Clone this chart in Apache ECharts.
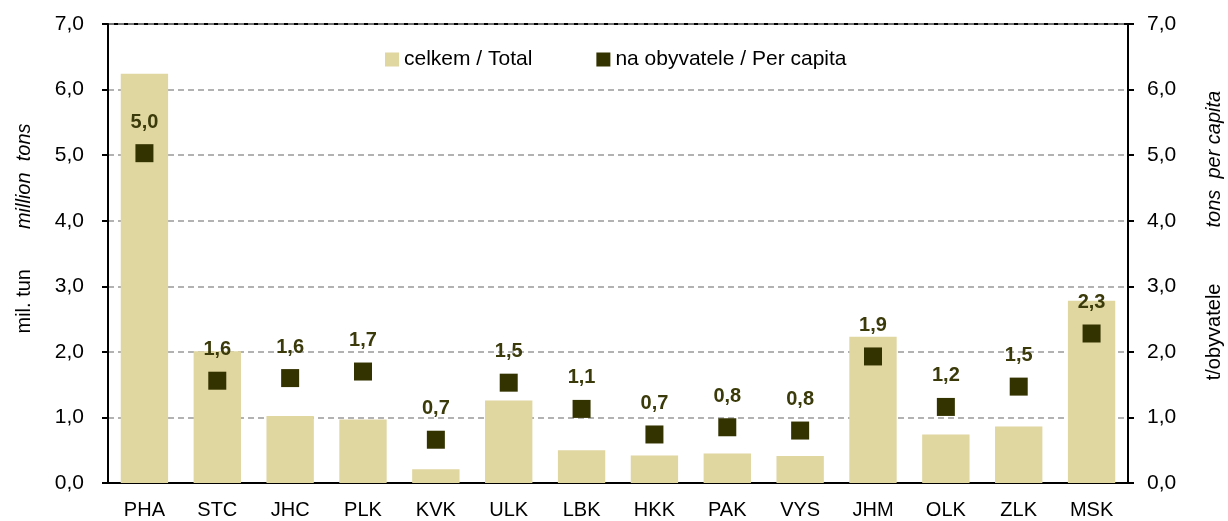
<!DOCTYPE html>
<html>
<head>
<meta charset="utf-8">
<script src="https://cdn.jsdelivr.net/npm/echarts@6/dist/echarts.min.js"></script>
<style>
  html, body { margin: 0; padding: 0; background: #fff; }
  #chart { width: 1228px; height: 521px; }
</style>
</head>
<body>
<div id="chart"></div>
<script>
const regions = ['PHA', 'STC', 'JHC', 'PLK', 'KVK', 'ULK', 'LBK', 'HKK', 'PAK', 'VYS', 'JHM', 'OLK', 'ZLK', 'MSK']
// celkem / Total (mil. tun)
const totals = [6.24, 2.01, 1.02, 0.97, 0.21, 1.26, 0.50, 0.42, 0.45, 0.41, 2.23, 0.74, 0.86, 2.78]
// na obyvatele / Per capita (t)
const perCapita = [5.03, 1.56, 1.60, 1.70, 0.66, 1.53, 1.13, 0.74, 0.85, 0.80, 1.93, 1.16, 1.47, 2.28]

const FONT = 'Liberation Sans, Arial, sans-serif'
const fmt = v => v.toFixed(1).replace('.', ',')

const chart = echarts.init(document.getElementById('chart'))

const axisCommon = {
  type: 'value',
  min: 0,
  max: 7,
  interval: 1,
  nameLocation: 'middle',
  nameRotate: 90,
  axisLine: { show: true, lineStyle: { color: '#000', width: 2 } },
  axisTick: { show: true, length: 6, lineStyle: { color: '#000', width: 2 } }
}

const tickLabel = { color: '#000', fontSize: 21, fontFamily: FONT, formatter: fmt }

const nameRich = {
  a: { fontSize: 20, color: '#000', fontFamily: FONT },
  b: { fontSize: 20, color: '#000', fontFamily: FONT, fontStyle: 'italic' },
  g: { width: 40 },
  g2: { width: 56 }
}

chart.setOption({
  animation: false,
  backgroundColor: '#fff',
  textStyle: { fontFamily: FONT },
  grid: {
    left: 108, right: 100, top: 24, bottom: 38,
    outerBoundsMode: 'none',
    show: true, borderColor: '#000', borderWidth: 2
  },
  legend: {
    top: 44,
    left: 380,
    itemGap: 64,
    itemWidth: 14,
    itemHeight: 14,
    textStyle: { color: '#000', fontSize: 21, fontFamily: FONT },
    data: [
      { name: 'celkem / Total', icon: 'rect' },
      { name: 'na obyvatele / Per capita', icon: 'rect' }
    ]
  },
  xAxis: {
    type: 'category',
    data: regions,
    axisLine: { lineStyle: { color: '#000', width: 2 } },
    axisTick: { show: false },
    axisLabel: { color: '#000', fontSize: 20, fontFamily: FONT, margin: 17 }
  },
  yAxis: [
    Object.assign({}, axisCommon, {
      position: 'left',
      name: '{a|mil. tun}{g|}{b|million  tons}',
      nameGap: 74,
      nameTextStyle: { rich: nameRich, padding: [0, 0, 0, 50] },
      axisLabel: Object.assign({ margin: 24 }, tickLabel),
      splitLine: { show: true, lineStyle: { color: '#999', type: [6, 4], width: 1.5 } }
    }),
    Object.assign({}, axisCommon, {
      position: 'right',
      name: '{a|t/obyvatele}{g2|}{b|tons  per capita}',
      nameGap: 76,
      nameTextStyle: { rich: nameRich, padding: [0, 0, 0, 36] },
      axisLabel: Object.assign({ margin: 19 }, tickLabel),
      splitLine: { show: false }
    })
  ],
  series: [
    {
      name: 'celkem / Total',
      type: 'bar',
      yAxisIndex: 0,
      data: totals,
      barWidth: '65%',
      itemStyle: { color: '#E0D6A0', opacity: 1 }
    },
    {
      name: 'na obyvatele / Per capita',
      type: 'scatter',
      yAxisIndex: 1,
      data: perCapita,
      symbol: 'rect',
      symbolSize: 18,
      itemStyle: { color: '#333300', opacity: 1 },
      label: {
        show: true,
        position: 'top',
        distance: 12,
        color: '#3A3A0A',
        fontSize: 20,
        fontWeight: 'bold',
        fontFamily: FONT,
        formatter: p => fmt(p.value)
      }
    }
  ]
})
</script>
</body>
</html>
